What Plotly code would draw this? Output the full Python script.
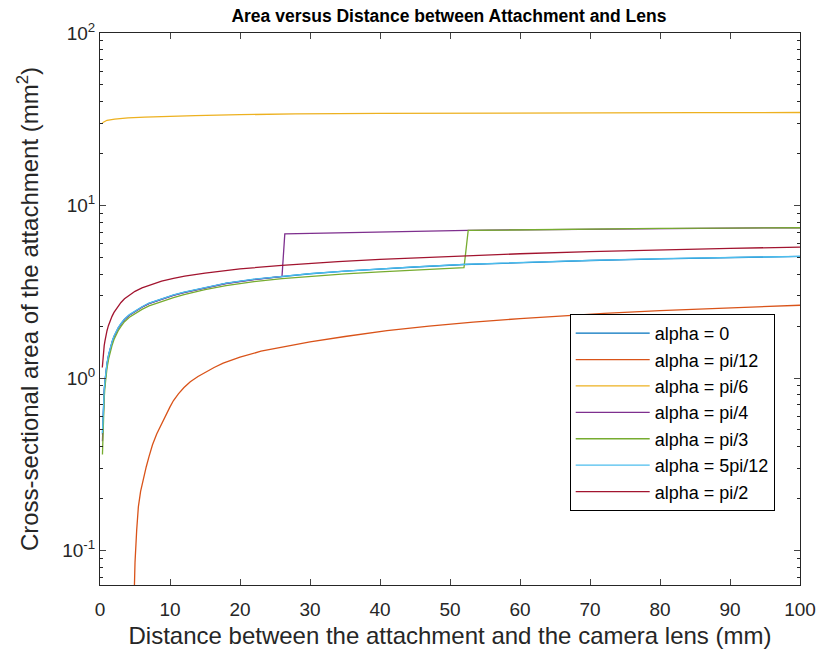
import plotly.graph_objects as go

# ---- data ----
labels = ["alpha = 0", "alpha = pi/12", "alpha = pi/6", "alpha = pi/4",
          "alpha = pi/3", "alpha = 5pi/12", "alpha = pi/2"]
colors = ["#0072BD", "#D95319", "#EDB120", "#7E2F8E", "#77AC30", "#4DBEEE", "#A2142F"]

x_cluster = [0.35, 0.42, 0.5, 0.6, 0.7, 0.85, 1, 1.25, 1.5, 1.75, 2, 2.3, 2.6, 3, 3.5,
             4.2, 5, 6, 7, 8, 9, 10.5, 12, 15, 18, 22, 26,
             30, 35, 40, 45, 52, 60, 70, 80, 90, 100]
y_alpha0 = [0.47, 0.59, 0.71, 0.84, 0.95, 1.09, 1.21, 1.37, 1.51, 1.63, 1.74, 1.85, 1.95,
            2.06, 2.19, 2.32, 2.44, 2.58, 2.71, 2.80, 2.89, 3.02, 3.14, 3.35, 3.54, 3.73, 3.89,
            4.02, 4.16, 4.29, 4.40, 4.55, 4.67, 4.80, 4.91, 5.00, 5.07]
y_5pi12 = [0.48, 0.60, 0.72, 0.85, 0.96, 1.10, 1.22, 1.38, 1.52, 1.64, 1.75, 1.86, 1.96,
           2.07, 2.20, 2.33, 2.45, 2.59, 2.72, 2.81, 2.90, 3.03, 3.15, 3.36, 3.55, 3.74, 3.90,
           4.03, 4.17, 4.30, 4.41, 4.56, 4.68, 4.81, 4.92, 5.01, 5.07]

x_pi12 = [4.8, 5.0, 5.24, 5.48, 5.8, 6.2, 6.6, 7, 7.5, 8.1, 8.7, 9.3, 10, 10.5, 11.2,
          12, 12.9, 14, 15, 16.3, 17.6, 20, 23, 27.1,
          30, 35, 41, 47, 53.3, 60, 65.7, 72, 80, 90, 100]
y_pi12 = [0.04, 0.085, 0.131, 0.179, 0.22, 0.262, 0.305, 0.35, 0.41, 0.474, 0.535, 0.60,
          0.68, 0.74, 0.81, 0.88, 0.95, 1.02, 1.08, 1.15, 1.22,
          1.32, 1.43, 1.54, 1.62, 1.74, 1.88, 2.00, 2.11, 2.21, 2.29, 2.37, 2.46, 2.56, 2.64]

x_pi6 = [0.35, 0.7, 1, 2.1, 4, 6.4, 10, 13.6, 20, 27.9, 40, 55, 70, 85, 100]
y_pi6 = [30.2, 30.9, 31.2, 31.7, 32.2, 32.5, 32.9, 33.2, 33.6, 34.0, 34.2, 34.4, 34.5, 34.55, 34.6]

x_pi4 = [0.35, 0.42, 0.5, 0.6, 0.7, 0.85, 1, 1.25, 1.5, 1.75, 2, 2.3, 2.6, 3, 3.5,
         4.2, 5, 6, 7, 8, 9, 10.5, 12, 15, 18, 22, 26,
         26.4, 30, 35, 40, 45, 52.5, 60, 70, 80, 90, 100]
y_pi4 = [0.43, 0.56, 0.69, 0.83, 0.94, 1.08, 1.20, 1.36, 1.50, 1.62, 1.73, 1.84, 1.94,
         2.05, 2.18, 2.31, 2.43, 2.57, 2.70, 2.79, 2.88, 3.01, 3.13, 3.34, 3.53, 3.72, 3.88,
         6.85, 6.90, 6.96, 7.02, 7.08, 7.17, 7.23, 7.30, 7.36, 7.40, 7.43]

x_pi3 = [0.35, 0.42, 0.5, 0.6, 0.7, 0.85, 1, 1.25, 1.5, 1.75, 2, 2.3, 2.6, 3, 3.5,
         4.2, 5, 6, 7, 8, 9, 10.5, 12, 15, 18, 22, 26,
         30, 35, 40, 45, 52, 52.6, 60, 70, 80, 90, 100]
y_pi3 = [0.36, 0.49, 0.62, 0.76, 0.88, 1.02, 1.14, 1.30, 1.44, 1.56, 1.67, 1.78, 1.88,
         1.99, 2.12, 2.25, 2.36, 2.50, 2.62, 2.71, 2.80, 2.92, 3.04, 3.25, 3.43, 3.62, 3.77,
         3.89, 4.01, 4.12, 4.23, 4.36, 7.17, 7.23, 7.30, 7.36, 7.40, 7.43]

x_pi2 = [0.33, 0.42, 0.5, 0.6, 0.71, 0.85, 1, 1.2, 1.43, 1.7, 2, 2.3, 2.6, 3, 3.5,
         4.2, 5, 6, 7, 8, 8.8, 10.5, 12.1, 15, 17.6, 20, 26,
         30, 34, 40, 45, 52, 60, 70, 80, 90, 100]
y_pi2 = [1.15, 1.30, 1.42, 1.54, 1.64, 1.77, 1.88, 2.01, 2.14, 2.27, 2.40, 2.51, 2.62,
         2.74, 2.88, 3.03, 3.18, 3.33, 3.45, 3.56, 3.64, 3.78, 3.90,
         4.06, 4.19, 4.29, 4.50, 4.62, 4.73, 4.87, 4.97, 5.10, 5.25, 5.40, 5.53, 5.64, 5.74]

series = [
    (x_cluster, y_alpha0),
    (x_pi12, y_pi12),
    (x_pi6, y_pi6),
    (x_pi4, y_pi4),
    (x_pi3, y_pi3),
    (x_cluster, y_5pi12),
    (x_pi2, y_pi2),
]

x_ticks = [0, 10, 20, 30, 40, 50, 60, 70, 80, 90, 100]
y_tickvals = [0.1, 1, 10, 100]
y_ticktext = ["10<sup>-1</sup>", "10<sup>0</sup>", "10<sup>1</sup>", "10<sup>2</sup>"]

FONT = "Liberation Sans, Arial, Helvetica, sans-serif"
AX = "#262626"

fig = go.Figure()
for (xs, ys), lab, col in zip(series, labels, colors):
    fig.add_trace(go.Scatter(x=xs, y=ys, mode="lines", name=lab,
                             line=dict(color=col, width=1.3)))

fig.update_layout(
    width=820, height=656,
    paper_bgcolor="white", plot_bgcolor="white",
    margin=dict(l=100, r=20, t=33, b=71),
    font=dict(family=FONT, color=AX, size=18),
    title=dict(text="<b>Area versus Distance between Attachment and Lens</b>",
               x=0.5475, xanchor="center", y=0.985, yanchor="top",
               font=dict(size=17.5, color="black", family=FONT)),
    showlegend=True,
    legend=dict(x=0.671, y=0.491, xanchor="left", yanchor="top",
                bgcolor="white", bordercolor="black", borderwidth=1,
                font=dict(size=18, color="black", family=FONT),
                itemwidth=74),
)
fig.update_xaxes(range=[0, 100], tickvals=x_ticks, ticks="inside", ticklen=6,
                 showline=True, linecolor=AX, linewidth=1, mirror="allticks",
                 showgrid=False, zeroline=False, automargin=False,
                 ticklabelstandoff=7,
                 tickfont=dict(size=19, color=AX),
                 title=dict(text="Distance between the attachment and the camera lens (mm)",
                            font=dict(size=24, color=AX), standoff=8))
fig.update_yaxes(type="log", range=[-1.2, 2], tickvals=y_tickvals, ticktext=y_ticktext,
                 ticks="inside", ticklen=6,
                 showline=True, linecolor=AX, linewidth=1, mirror="allticks",
                 showgrid=False, zeroline=False, automargin=False,
                 minor=dict(ticks="inside", ticklen=3, tickcolor=AX, dtick="D1",
                            showgrid=False),
                 tickfont=dict(size=19, color=AX),
                 title=dict(text="Cross-sectional area of the attachment (mm<sup>2</sup>)",
                            font=dict(size=24, color=AX), standoff=16))

fig.write_html("out.html", config={"displayModeBar": False},
               post_script="document.body.style.margin='0';")
